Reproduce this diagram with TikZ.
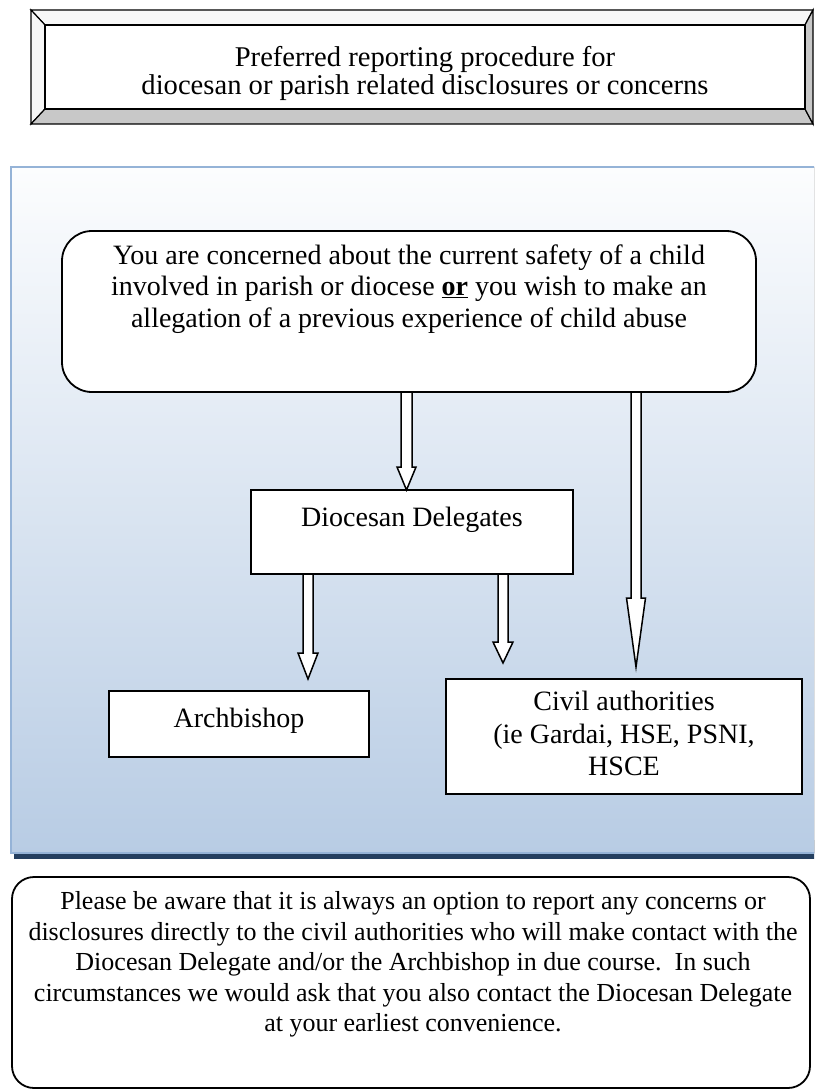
\documentclass[tikz,border=0pt]{standalone}
\usepackage{fontspec}
\setmainfont{Liberation Serif}
\usetikzlibrary{calc}
\definecolor{panelborder}{HTML}{95B3D7}
\definecolor{paneltop}{HTML}{FCFDFE}
\definecolor{panelbot}{HTML}{B8CCE4}
\definecolor{shadownavy}{HTML}{243F60}
\definecolor{bevelgrey}{HTML}{C8C8C8}
\definecolor{bevellight}{HTML}{F7F7F7}
\tikzset{
  box/.style={draw=black, line width=1.8pt, fill=white, inner sep=0pt, outer sep=0pt},
  rbox/.style={box, rounded corners=#1},
  txt/.style={inner sep=0pt, outer sep=0pt, align=center, execute at begin node=\strut},
  big/.style={font=\fontsize{28}{#1}\selectfont},
  bevel/.style={draw=black, line width=1.2pt, line join=miter},
  arrowbox/.style={draw=black, line width=1.5pt, fill=white, line join=miter},
}
\newcommand\blockarrow[5]{%
  \draw[arrowbox] let \p1=(#1), \p2=(#2) in
    (\x1-#3,\y1) -- (\x1-#3,\y2+#5) -- (\x1-#4,\y2+#5) -- (\x1,\y2)
    -- (\x1+#4,\y2+#5) -- (\x1+#3,\y2+#5) -- (\x1+#3,\y1) -- cycle;}
\begin{document}
\begin{tikzpicture}[x=1pt,y=-1pt]
\clip (0,0) rectangle (814,1091);
\fill[white] (0,0) rectangle (814,1091);

% title bevel box
\filldraw[bevel, fill=bevellight] (31,10) -- (813,10) -- (805,25) -- (45,25) -- cycle;
\filldraw[bevel, fill=bevellight] (31,10) -- (45,25) -- (45,109) -- (31,124) -- cycle;
\filldraw[bevel, fill=bevelgrey] (31,124) -- (45,109) -- (805,109) -- (813,124) -- cycle;
\filldraw[bevel, fill=bevelgrey] (813,10) -- (805,25) -- (805,109) -- (813,124) -- cycle;
\node[box, minimum width=760pt, minimum height=84pt, anchor=north west] (title) at (45,25) {};
\node[txt, font=\fontsize{28.6}{27.5}\selectfont, anchor=north] (titletxt) at (425,46.75)
  {Preferred reporting procedure for\\diocesan or parish related disclosures or concerns};

% background panel
\fill[shadownavy] (14,840) rectangle (820,859);
\fill[top color=paneltop, bottom color=panelbot] (11,167) rectangle (820,853);
\draw[panelborder, line width=2pt] (820,167) -- (11,167) -- (11,853) -- (820,853);

% boxes
\node[rbox=30pt, minimum width=694pt, minimum height=161pt, anchor=north west] (concern) at (62,231) {};
\node[txt, big=31.5, anchor=north] (concerntxt) at (409,244.45)
  {You are concerned about the current safety of a child\\
   involved in parish or diocese \textbf{\underline{or}} you wish to make an\\
   allegation of a previous experience of child abuse};

\node[box, minimum width=322pt, minimum height=84pt, anchor=north west] (dd) at (251,490) {};
\node[inner sep=0pt, big=34, anchor=base] (ddtxt) at (412,526) {Diocesan Delegates};

\node[box, minimum width=260pt, minimum height=66pt, anchor=north west] (arch) at (109,691) {};
\node[inner sep=0pt, big=34, anchor=base] (archtxt) at (239,727) {Archbishop};

\node[box, minimum width=356pt, minimum height=115pt, anchor=north west] (civil) at (446,679) {};
\node[txt, big=32.5, anchor=north] (civiltxt) at (624,691.25)
  {Civil authorities\\(ie Gardai, HSE, PSNI,\\HSCE};

% arrows
\coordinate (a1s) at (concern.south -| 406.5,0);
\coordinate (a1e) at (dd.north -| 406.5,0);
\blockarrow{a1s}{a1e}{5.5pt}{9.5pt}{23pt}
\coordinate (a2s) at (concern.south -| 636,0);
\coordinate (a2e) at ($(civil.north -| 636,0)+(0,-12)$);
\blockarrow{a2s}{a2e}{5pt}{9.5pt}{69pt}
\coordinate (a3s) at (dd.south -| 308,0);
\coordinate (a3e) at ($(arch.north -| 308,0)+(0,-12)$);
\blockarrow{a3s}{a3e}{5pt}{10pt}{26pt}
\coordinate (a4s) at (dd.south -| 503,0);
\coordinate (a4e) at ($(civil.north -| 503,0)+(0,-16)$);
\blockarrow{a4s}{a4e}{5pt}{10pt}{21pt}

% bottom note
\node[rbox=22pt, minimum width=798pt, minimum height=211pt, anchor=north west] (note) at (12,877) {};
\node[txt, font=\fontsize{26}{30.5}\selectfont, anchor=north] (notetxt) at (413,891.65)
  {Please be aware that it is always an option to report any concerns or\\
   disclosures directly to the civil authorities who will make contact with the\\
   Diocesan Delegate and/or the Archbishop in due course.\ \ In such\\
   circumstances we would ask that you also contact the Diocesan Delegate\\
   at your earliest convenience.};
\end{tikzpicture}
\end{document}
